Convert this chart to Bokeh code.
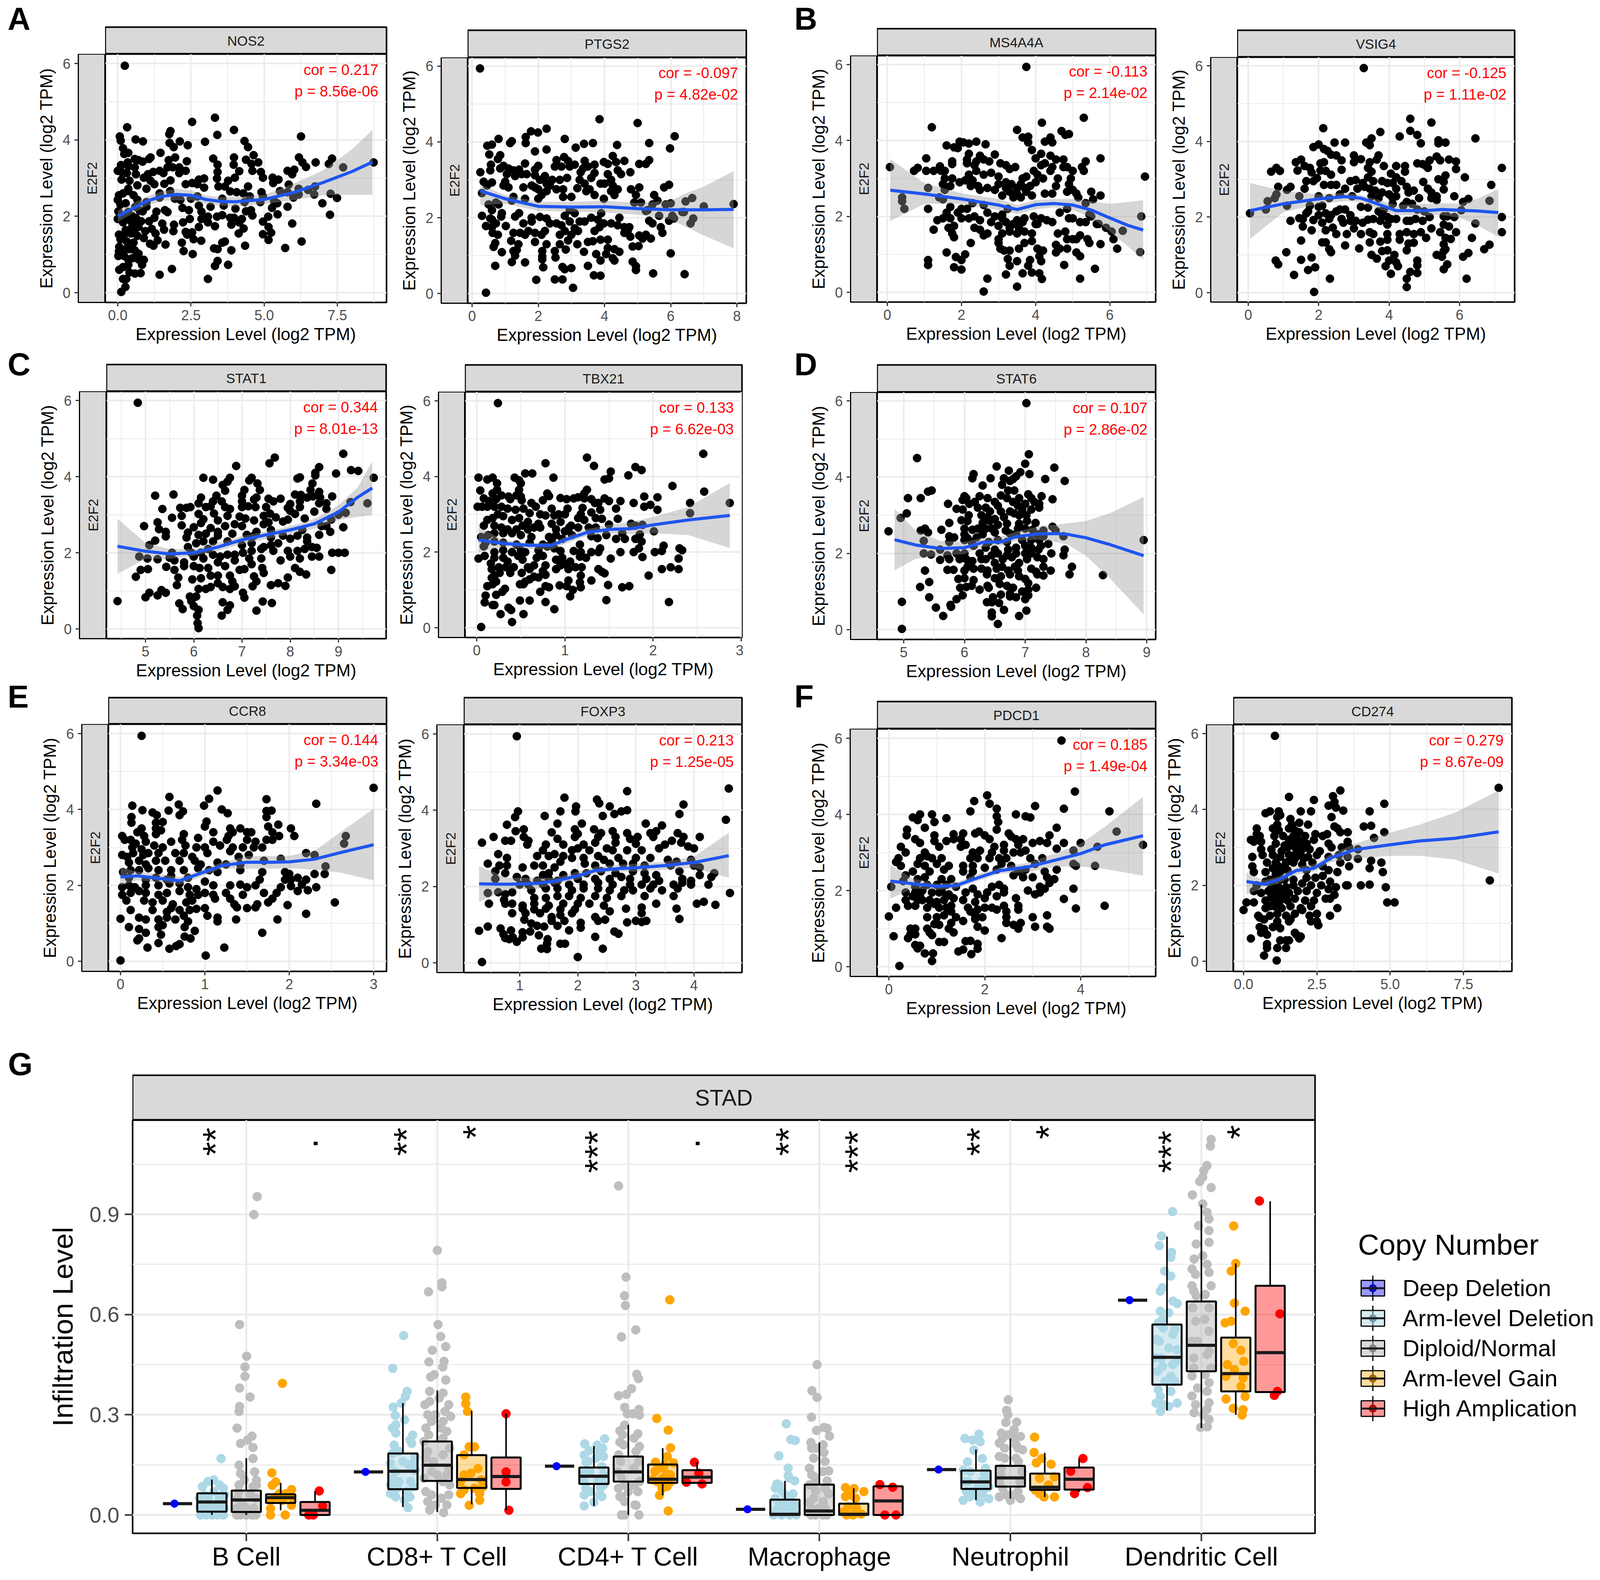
import math
from bokeh.plotting import figure
from bokeh.layouts import row, column
from bokeh.models import Spacer, Label, FixedTicker, Grid
from bokeh.core.properties import value
from bokeh.embed import file_html
from bokeh.resources import INLINE

FONT = "Liberation Sans"
GRID = "#EBEBEB"

# smooth curves: x, fit, upper, lower
SM = {
"NOS2":([0,.5,1,1.5,2,2.5,3,3.5,4,5,6,7,8,8.7],[2,2.2,2.4,2.52,2.57,2.55,2.44,2.39,2.38,2.44,2.62,2.88,3.17,3.42],[2.15,2.33,2.52,2.65,2.72,2.68,2.55,2.5,2.5,2.56,2.85,3.2,3.75,4.26],[1.85,2.07,2.28,2.4,2.42,2.42,2.32,2.28,2.26,2.32,2.42,2.55,2.56,2.56]),
"PTGS2":([.25,1,2,3,4,5,6,6.5,7,7.9],[2.71,2.5,2.3,2.28,2.29,2.24,2.21,2.21,2.21,2.22],[2.87,2.6,2.42,2.42,2.45,2.39,2.45,2.66,2.82,3.23],[2.33,2.37,2.18,2.16,2.14,2.08,1.95,1.74,1.53,1.19]),
"MS4A4A":([.08,1,2,3,3.5,4,4.5,5,5.5,6,6.5,6.9],[2.69,2.59,2.46,2.3,2.18,2.31,2.34,2.3,2.17,1.96,1.76,1.64],[3.51,2.88,2.61,2.46,2.3,2.43,2.46,2.46,2.4,2.33,2.38,2.43],[1.88,2.33,2.33,2.17,2.06,2.19,2.24,2.17,1.97,1.6,1.2,.86]),
"VSIG4":([.05,1,2,2.75,3.2,3.6,4.2,5,5.5,6,6.5,7.1],[2.17,2.35,2.48,2.54,2.5,2.37,2.17,2.17,2.2,2.18,2.16,2.12],[2.9,2.69,2.6,2.64,2.58,2.48,2.32,2.35,2.37,2.35,2.48,2.74],[1.42,2.13,2.35,2.42,2.4,2.25,2.05,2.05,2.05,1.98,1.79,1.48]),
"STAT1":([4.42,5,5.5,6,6.5,7,7.5,8,8.5,9,9.4,9.7],[2.17,2.04,1.97,2.0,2.15,2.34,2.47,2.6,2.76,3.07,3.46,3.7],[2.89,2.26,2.1,2.1,2.26,2.44,2.56,2.7,2.89,3.25,3.72,4.4],[1.45,1.84,1.84,1.92,2.05,2.23,2.36,2.49,2.63,2.86,2.94,2.99]),
"TBX21":([.02,.3,.6,.85,1,1.25,1.5,1.75,2,2.4,2.87],[2.32,2.23,2.18,2.18,2.32,2.52,2.6,2.62,2.72,2.85,2.97],[2.66,2.32,2.24,2.24,2.4,2.61,2.72,2.79,2.93,3.19,3.83],[2.0,2.14,2.08,2.06,2.22,2.43,2.49,2.48,2.5,2.45,2.11]),
"STAT6":([4.85,5.2,5.6,6,6.3,6.6,6.85,7.2,7.5,7.7,8,8.4,8.95],[2.36,2.22,2.13,2.15,2.29,2.3,2.44,2.51,2.52,2.5,2.41,2.23,1.94],[3.17,2.59,2.33,2.3,2.41,2.44,2.57,2.7,2.75,2.79,2.85,3.06,3.48],[1.56,1.86,1.94,1.98,2.17,2.2,2.33,2.36,2.3,2.23,1.94,1.34,.4]),
"CCR8":([0,.2,.4,.7,.9,1.2,1.5,1.8,2,2.3,2.6,3],[2.22,2.25,2.2,2.12,2.28,2.52,2.61,2.61,2.62,2.69,2.86,3.07],[2.47,2.36,2.31,2.22,2.36,2.6,2.77,2.77,2.78,2.91,3.39,4.02],[2.0,2.13,2.1,2.02,2.18,2.44,2.44,2.44,2.45,2.41,2.34,2.13]),
"FOXP3":([.3,.8,1.3,1.6,2,2.3,2.7,3,3.5,4,4.6],[2.07,2.06,2.08,2.14,2.28,2.42,2.47,2.49,2.55,2.63,2.81],[2.53,2.23,2.23,2.23,2.39,2.52,2.57,2.6,2.65,2.78,3.41],[1.6,1.92,1.94,2.05,2.18,2.34,2.39,2.39,2.44,2.49,2.23]),
"PDCD1":([.03,.5,1,1.4,1.8,2.3,2.9,3.5,4,4.5,5.3],[2.25,2.18,2.11,2.13,2.31,2.52,2.62,2.81,2.97,3.2,3.44],[2.68,2.31,2.18,2.21,2.41,2.6,2.73,2.99,3.23,3.67,4.46],[1.79,2.05,2.02,2.05,2.23,2.44,2.49,2.63,2.63,2.57,2.39]),
"CD274":([.1,.7,1.2,1.8,2.4,3,3.8,5,6,7.2,8.7],[2.1,2.03,2.15,2.39,2.45,2.73,2.94,3.07,3.17,3.24,3.41],[2.34,2.13,2.23,2.49,2.55,2.83,3.1,3.39,3.6,3.91,4.5],[1.76,1.94,2.05,2.28,2.36,2.62,2.7,2.78,2.78,2.68,2.31]),
}

# scatter points
nos2=[(.24,5.94),(.32,4.33),(.07,4.09),(.1,3.98),(.61,4.01),(.86,3.96),(2.54,4.47),(3.32,4.58),(1.8,4.23),(1.76,4.15),(1.77,3.92),(2.12,3.96),(1.91,3.81),(2.39,3.86),(2.98,3.95),(3.4,4.13),(3.97,4.26),(4.33,3.97),(4.45,3.81),(6.26,4.09),(.12,.02),(.26,.15),(.18,.36),(.29,.36),(3.08,.36),(1.43,.47),(1.85,.62),(.4,.53),(.59,.5),(.78,.51),(3.77,.73),(3.32,.7),(3.41,.83),(.05,.6),(.18,.67),(.36,.73),(.83,.73),(.89,.86),(.71,.87),(2.56,1.01),(2.25,1.09),(3.88,1.11),(3.29,1.16),(3.41,1.14),(5.72,1.17),(4.35,1.23),(1.63,1.26),(1.1,1.28),(1.22,1.23),(1.36,1.37),(2.19,1.31),(2.85,1.36),(2.59,1.4),(3.57,1.31),(3.66,1.34),(6.28,1.34),(5.15,1.38),(4.96,1.53),(5.24,1.57),(4.13,1.55),(5.15,1.72),(5.96,1.81),(4.96,1.86),(5.14,1.99),(7.25,2.04),(5.46,2.05),(5.8,2.25),(5.27,2.22),(6.99,2.34),(7.49,2.48),(7.27,2.59),(6.71,2.57),(7.7,3.28),(8.74,3.41),(7.32,3.51),(7.21,3.37),(6.76,3.41),(6.19,3.54),(6.31,3.41),(6.43,3.29),(5.8,3.19),(6.03,3.22),(5.96,3.1),(5.29,3.01),(5.49,2.96),(5.31,2.87),(5.84,2.83),(6.18,2.72),(6.74,2.78),(6.5,2.69),(6.18,2.57),(6,2.49),(5.8,2.63),(5.54,2.66),(5.34,2.4),(5.45,2.34),(4.91,2.63),(4.96,2.52),(4.87,2.37),(4.51,2.52),(4.33,2.37),(3.57,2.46),(3.62,2.28),(4.45,2.78),(4.6,3.19),(4.64,3.6),(4.38,3.48),(4.57,3.37),(4.8,3.41),(4.89,3.16),(4.96,3.01),(3.97,3.54),(3.96,3.35),(4.15,3.18),(4,3.01),(3.77,2.93),(3.26,3.51),(3.41,3.35),(3.41,3.16),(3.39,2.99),(3.44,2.78),(3.66,2.78),(3.84,2.65),(4.06,2.63),(4.29,2.6),(3.17,2.25),(2.77,2.28),(2.86,2.12),(4.02,2.2),(4.38,2.13),(4.55,2.16),(4.6,2.02),(3.39,1.99),(3.57,2.03),(3.84,1.96),(3.97,1.96),(4.24,1.93),(4.15,1.84),(3.88,1.78),(3.32,1.74),(4.3,1.68),(3.08,1.99),(2.86,1.93),(2.77,1.72),(3.08,1.84),(2.46,1.93),(2.23,1.84),(1.92,1.78),(1.9,1.61),(2.32,1.59),(2.54,1.58),(2.37,1.52),(1.58,1.65),(1.52,1.81),(1.7,2.11),(1.61,2.16),(2.21,2.22),(2.43,2.16),(1.32,2.12),(2.14,2.43),(1.95,2.46),(2.5,2.46),(2.72,2.52),(0,2.43),(.04,2.55),(.18,2.6),(.36,2.66),(.09,2.31),(.27,2.34),(.54,2.55),(.67,2.43),(.02,2.13),(.18,2.02),(.36,2.11),(0,1.93),(.18,1.84),(.45,1.87),(.62,1.96),(.85,2.13),(.98,2.25),(.8,1.87),(1.07,1.87),(1.25,1.96),(.71,1.72),(.49,1.72),(.27,1.64),(.04,1.52),(.22,1.52),(.45,1.55),(.67,1.49),(.94,1.61),(1.16,1.67),(1.29,1.55),(.89,1.43),(.54,1.31),(.31,1.34),(.09,1.4),(.05,1.2),(.04,1.08),(.02,.96),(.27,1.14),(.4,1.14),(.58,1.11),(.71,1.02),(.22,.96),(.36,.87),(.49,.9),(.18,3.78),(.22,3.63),(.36,3.66),(.58,3.5),(.71,3.47),(.85,3.43),(1.07,3.5),(1.12,3.54),(.34,3.41),(.36,3.31),(.11,3.34),(0,3.19),(.13,3.16),(.31,3.13),(.58,3.28),(.62,3.1),(1.03,3.1),(1.21,3.16),(1.43,3.19),(1.56,3.13),(1.46,3.66),(1.74,3.47),(1.96,3.54),(1.7,3.28),(1.88,3.28),(2.1,3.28),(2.36,3.44),(2.32,3.19),(2.1,3.13),(2.77,2.96),(2.95,2.99),(2.72,2.84),(2.95,2.75),(2.54,2.87),(2.32,2.84),(1.8,2.94),(1.59,2.85),(1.25,2.84),(1.12,2.93),(.89,3.01),(.4,2.93),(.13,2.96),(.67,2.81),(.98,2.72),(.36,2.72),(1.43,2.6),(1.79,2.66),(1.43,2.49),(.98,2.37),(.6,2.25),(.75,2.15),(.5,2.0),(.3,1.95),(.6,1.85),(.55,1.6)]
ptgs2=[(.24,5.94),(.42,.02),(3.05,.15),(1.94,.36),(2.5,.37),(2.73,.37),(3.68,.48),(3.88,.47),(5.47,.53),(6.42,.51),(2.73,.7),(2.8,.64),(3.0,.67),(2.15,.69),(.7,.73),(3.5,.73),(1.2,.83),(1.6,.82),(2.12,.9),(2.12,.98),(2.52,.95),(3.88,.87),(4.25,.93),(4.3,.87),(4.85,.84),(4.95,.72),(4.95,.62),(.9,1.09),(1.3,1.0),(1.25,1.12),(1.35,1.15),(2.12,1.12),(2.5,1.12),(2.83,1.16),(3.38,1.1),(3.75,1.04),(4.05,1.04),(4.1,1.2),(4.3,1.17),(4.45,1.1),(6,1.06),(.65,1.23),(.7,1.33),(1.18,1.39),(1.4,1.3),(1.9,1.36),(2.25,1.3),(2.65,1.3),(3.18,1.3),(3.5,1.36),(3.65,1.38),(3.88,1.42),(4.1,1.42),(4.85,1.24),(5.03,1.25),(5.15,1.45),(5.4,1.45),(5.05,1.53),(5.25,1.55),(4.78,1.5),(4.6,1.6),(5.75,1.6),(5.7,1.75),(5.45,1.85),(5.35,1.92),(5.95,1.92),(6.1,1.98),(6.6,1.85),(6.68,1.98),(6.35,2.15),(6.05,2.05),(5.65,2.05),(5.25,2.18),(.3,2.05),(.55,1.98),(.6,1.95),(.42,1.78),(.6,1.75),(.72,1.85),(.62,1.6),(.78,1.55),(.88,2.03),(.9,2.12),(1.02,1.78),(1.25,1.6),(1.45,1.6),(1.6,1.55),(1.3,2.03),(1.42,2.12),(1.55,1.85),(1.8,1.9),(1.8,2.0),(1.7,1.65),(1.9,1.6),(2.1,1.55),(2.2,1.65),(2.05,2.02),(2.25,1.98),(2.35,1.85),(2.55,1.85),(2.7,1.8),(2.65,1.55),(2.8,1.65),(3.0,1.55),(2.9,1.4),(2.95,1.9),(2.8,2.05),(2.95,2.2),(3.1,2.12),(3.25,1.9),(3.1,1.72),(3.2,1.65),(3.4,1.9),(3.6,2.0),(3.7,1.65),(3.85,1.75),(3.8,1.95),(3.98,1.85),(3.9,2.12),(4.2,1.85),(4.4,1.8),(4.45,2.0),(4.6,1.75),(4.75,1.75),(4.7,1.65),(.6,2.2),(.5,2.35),(.72,2.4),(.8,2.35),(1.2,2.45),(1.25,2.55),(1.6,2.5),(.25,3.2),(.35,2.95),(.45,2.85),(.6,2.93),(.3,2.65),(.55,3.25),(.57,3.4),(.52,3.67),(.78,3.55),(.85,3.65),(.46,3.9),(.6,3.93),(.8,4.08),(1.15,3.97),(1.2,4.02),(1.62,4.13),(1.62,3.97),(1.78,4.28),(1.99,4.25),(2.25,4.35),(2.25,3.8),(1.9,3.75),(2.8,4.08),(3.13,3.85),(3.38,3.95),(3.65,3.97),(3.85,4.6),(5,4.5),(4.38,3.92),(5.35,3.97),(6.12,4.15),(5.98,3.83),(4.25,3.63),(4.35,3.47),(4.6,3.5),(3.98,3.47),(4.1,3.42),(3.7,3.4),(3.4,3.5),(3.5,3.35),(3.35,3.3),(3.1,3.4),(2.95,3.35),(2.9,3.5),(2.78,3.6),(2.55,3.52),(2.5,3.35),(2.7,3.35),(1.6,3.43),(1.9,3.27),(2,3.37),(.85,3.3),(.95,3.37),(1.1,3.3),(1.25,3.25),(1.42,3.27),(1.3,3.1),(1.5,3.15),(1.65,3.15),(1.9,3.12),(1.05,3.15),(1.0,2.95),(.95,2.85),(1.1,2.8),(1.55,2.8),(1.8,2.85),(1.9,2.8),(2.0,2.75),(2.05,3.0),(2.2,3.1),(2.25,2.9),(2.35,2.85),(2.42,3.0),(2.25,2.7),(2.1,2.6),(2,2.5),(2.65,3.0),(2.55,2.75),(2.75,2.55),(2.75,2.75),(2.87,3.05),(3.0,2.55),(3.18,2.78),(3.25,3.0),(3.28,3.2),(3.4,2.9),(3.45,2.7),(3.55,2.75),(3.6,3.05),(3.7,2.6),(3.7,3.18),(3.88,2.9),(4.0,2.9),(3.98,2.5),(4.1,3.15),(4.2,3.0),(4.2,2.7),(4.3,2.6),(4.4,2.75),(4.25,2.85),(4.4,3.25),(4.5,3.15),(4.78,3.2),(5.05,3.42),(5.25,3.42),(5.35,3.52),(4.8,2.75),(5.05,2.8),(4.95,2.6),(4.9,2.4),(5.1,2.4),(5.3,2.2),(5.5,2.6),(5.6,2.45),(5.45,2.35),(5.8,2.8),(5.95,2.87),(5.85,2.35),(6,2.38),(6.45,2.43),(6.65,2.52),(7,2.3),(7.9,2.36),(6.4,2.15)]
ms4a4a=[(3.75,5.94),(1.2,4.35),(4.17,4.47),(5.3,4.6),(3.5,4.28),(4.7,4.25),(4.8,4.15),(4.9,4.17),(3.65,4.08),(3.8,4.1),(4.4,4.08),(3.8,3.95),(4.25,3.97),(4.45,3.95),(1.6,3.87),(1.8,3.82),(1.9,3.8),(1.95,3.97),(2.05,3.95),(2.2,3.92),(2.4,3.97),(2.65,3.9),(3.9,3.75),(4.15,3.65),(2.2,3.65),(2.5,3.6),(2.9,3.63),(4.4,3.6),(4.55,3.5),(4.75,3.5),(5.35,3.45),(5.75,3.53),(4,3.53),(1.05,3.53),(.07,3.3),(.72,3.2),(.82,3.28),(1.05,3.2),(1.25,3.2),(1.42,3.32),(1.45,3.2),(1.55,3.2),(1.75,3.45),(1.75,3.38),(2.15,3.5),(2.15,3.4),(2.35,3.35),(2.4,3.45),(2.6,3.5),(2.75,3.45),(3.05,3.4),(3.2,3.35),(3.3,3.25),(3.45,3.3),(4.15,3.35),(4.25,3.4),(4.45,3.3),(4.75,3.3),(4.85,3.3),(5.25,3.3),(5.3,3.2),(6.95,3.05),(5,3.2),(4.95,3.0),(4.9,2.85),(4.6,3.0),(4.4,3.2),(4.2,3),(4.05,3.1),(3.95,3.2),(3.75,3.05),(3.65,3),(3.0,3.05),(2.8,3.15),(2.6,3.1),(2.4,3.2),(2.2,3.1),(2.1,2.95),(1.95,2.9),(1.75,3.0),(1.55,3.0),(1.7,2.8),(1.5,2.85),(2.3,2.95),(2.45,2.8),(2.25,2.8),(2.5,2.7),(2.7,2.75),(2.9,2.7),(3,2.85),(3.2,2.9),(3.35,2.85),(3.3,2.65),(3.5,2.75),(3.6,2.85),(3.75,2.65),(3.9,2.55),(3.6,2.5),(3.4,2.5),(3.1,2.55),(4,2.9),(4.25,2.6),(4.45,2.6),(4.55,2.8),(4.85,2.65),(5,2.7),(5.15,2.5),(5.1,2.6),(5.35,2.35),(5.5,2.65),(5.55,2.45),(5.75,2.55),(1.1,2.75),(1.55,2.7),(1.4,2.5),(1.5,2.45),(.4,2.5),(.4,2.4),(.46,2.2),(1.1,2.2),(1.7,2.25),(1.6,2.1),(2,2.2),(2.15,2.2),(2.3,2.35),(2.6,2.3),(2.7,2.1),(1.9,2.1),(2,1.95),(2.2,1.95),(2.35,2.0),(2.5,1.9),(2.8,1.85),(2.9,2.0),(3.1,2.05),(3.2,1.85),(3,1.75),(3.3,1.7),(3.5,1.9),(3.65,1.85),(3.7,1.95),(3.95,2.0),(4,1.8),(4.15,1.95),(4.3,1.9),(4.45,1.85),(4.65,2.1),(4.9,1.95),(5,1.95),(5.2,1.85),(5.35,1.85),(4.85,2.2),(5.5,2),(5.65,1.8),(5.45,2.05),(1.35,1.9),(1.5,1.95),(1.7,1.95),(1.25,1.65),(1.65,1.7),(1.8,1.75),(1.75,1.55),(1.8,1.45),(2.35,1.7),(2.5,1.65),(2.6,1.5),(2.7,1.55),(2.25,1.3),(3,1.4),(3.1,1.55),(3.3,1.6),(3.5,1.55),(3.7,1.6),(3.9,1.55),(4.05,1.8),(4.6,1.55),(4.8,1.6),(4.85,1.4),(5,1.4),(5.1,1.4),(5.2,1.5),(5.4,1.4),(5.45,1.3),(5.75,1.27),(6.1,1.4),(6.05,1.6),(5.9,1.7),(5.7,1.8),(6.35,1.62),(6.85,2.0),(6.82,1.06),(6.2,1.15),(3,1.3),(3.05,1.15),(3.15,1.1),(3.3,1.1),(3.55,1.15),(3.7,1.3),(3.9,1.35),(4.05,1.15),(4.2,1.1),(4.55,1.25),(4.65,1.15),(4.85,1.15),(5.1,1.05),(5.2,.95),(4.55,1.05),(1.6,1.05),(1.85,.93),(2.1,1.0),(2,.85),(3.25,.88),(3.5,.82),(3.85,.85),(4.1,.95),(4.15,.82),(1.1,.85),(1.1,.72),(1.8,.66),(2.0,.6),(3.3,.7),(3.8,.7),(3.2,.47),(3.65,.5),(3.9,.52),(4.1,.5),(4.17,.35),(4.77,.72),(5.6,.62),(5.2,.36),(2.7,.36),(2.6,.02),(3.5,.15),(3.25,2.2),(3.1,1.95),(3.4,1.8),(3.55,1.7),(3.2,2.75),(3.7,2.75),(3.85,2.8),(3.5,2.6)]
vsig4=[(3.28,5.94),(4.6,4.6),(5.2,4.5),(2.13,4.35),(4.6,4.28),(3.75,4.25),(4.8,4.17),(4.3,4.13),(3.5,4.08),(6.45,4.08),(2.45,3.97),(2.75,3.97),(3.35,3.97),(3.45,3.9),(4.9,3.95),(5.4,4.03),(5.4,3.95),(5.6,3.97),(1.85,3.85),(2,3.92),(2.15,3.8),(2.25,3.75),(2.35,3.65),(2.5,3.63),(3,3.63),(3.7,3.63),(1.5,3.52),(2.65,3.5),(3.2,3.53),(3.65,3.52),(5.35,3.6),(5.45,3.5),(5.7,3.52),(5.9,3.47),(5.15,3.5),(1.35,3.45),(2.15,3.45),(2.05,3.42),(3,3.45),(3.45,3.45),(4.2,3.35),(4.45,3.35),(4.8,3.42),(4.95,3.4),(5.05,3.35),(7.2,3.3),(.65,3.2),(.8,3.3),(.9,3.22),(1.4,3.23),(1.6,3.35),(1.75,3.3),(2.05,3.23),(2.2,3.22),(2.65,3.25),(3.4,3.3),(3.5,3.2),(3.85,3.35),(4.05,3.15),(4.45,3.2),(5.1,3.3),(5.9,3.27),(1.8,3.18),(2.35,3.12),(3.4,3.05),(4.2,3.05),(5.6,3.1),(6.15,3.05),(1.65,2.95),(1.85,2.95),(1.95,3.03),(2.9,2.95),(3.05,2.98),(3.25,2.9),(3.55,2.95),(3.8,2.95),(3.95,2.9),(4.1,2.9),(4.35,2.95),(5.4,3.0),(5.55,2.93),(4.97,2.93),(6.9,2.85),(.85,2.8),(1.1,2.72),(1.2,2.8),(1.45,2.55),(1.6,2.75),(2.15,2.85),(2.35,2.85),(2.5,2.85),(2.75,2.75),(3.1,2.75),(3.3,2.8),(3.45,2.75),(3.6,2.7),(3.8,2.65),(4.2,2.75),(4.5,2.8),(4.55,2.65),(4.7,2.7),(5.1,2.75),(5.2,2.65),(5.55,2.73),(.8,2.6),(.75,2.5),(2,2.55),(2.3,2.5),(2.6,2.6),(2.95,2.55),(3.5,2.55),(3.7,2.5),(4,2.6),(4.1,2.5),(4.2,2.55),(4.5,2.4),(4.65,2.35),(4.85,2.5),(5.2,2.5),(5.35,2.55),(5.35,2.45),(5.85,2.55),(6.25,2.48),(6.1,2.4),(6.85,2.43),(.55,2.42),(.5,2.2),(.05,2.1),(1.1,2.3),(1.75,2.3),(1.7,2.15),(1.65,2.1),(2,2.27),(2.1,2.3),(2.75,2.2),(3.2,2.27),(3.4,2.25),(3.85,2.2),(4.1,2.35),(4.4,2.3),(4.8,2.2),(5,2.15),(5.15,2.0),(5.55,2.02),(5.65,2.02),(5.85,2),(7.2,2),(6.05,2.18),(2,2.05),(2.2,2.1),(2.35,2.05),(2.5,2.15),(2.6,2.2),(2.9,2.05),(3.7,2.15),(3.8,2.05),(3.95,2),(1.2,1.9),(1.45,1.97),(1.55,1.95),(1.85,1.92),(2.1,1.85),(2.3,1.95),(2.65,1.95),(2.7,1.85),(2.9,1.9),(3.05,1.9),(3.25,1.85),(3.4,1.93),(3.55,1.95),(3.75,1.9),(3.95,1.8),(4.2,1.95),(4.05,1.95),(4.5,1.9),(4.6,1.9),(4.75,1.95),(4.95,1.9),(5.55,1.8),(5.7,1.75),(6.45,1.83),(7.2,1.6),(1.55,1.75),(1.8,1.65),(2.2,1.65),(2.4,1.72),(2.5,1.55),(2.8,1.55),(3.0,1.7),(3.2,1.55),(3.45,1.6),(3.55,1.55),(3.95,1.55),(4.3,1.55),(4.5,1.6),(4.7,1.55),(4.9,1.6),(5.05,1.45),(5.2,1.7),(5.45,1.6),(5.6,1.45),(5.9,1.6),(5.75,1.42),(6.35,1.45),(1.5,1.38),(2.1,1.33),(2.2,1.33),(2.75,1.25),(3.15,1.17),(3.45,1.33),(3.75,1.35),(3.95,1.4),(4.3,1.4),(4.55,1.3),(4.7,1.32),(5.55,1.28),(5.6,1.15),(6.85,1.27),(6.7,1.15),(1.08,1.07),(2.3,1.15),(2.35,1.07),(3.5,1),(3.8,1.1),(3.95,1.12),(4.15,1.0),(4.5,1.12),(5.35,1),(5.5,.95),(6.1,.95),(6.25,1.05),(5.55,1.1),(.78,.85),(.85,.75),(1.5,.87),(1.8,.93),(3.65,.9),(4.0,.85),(4.2,.8),(4.8,.85),(4.8,.72),(3.9,.7),(4.25,.7),(5.65,.75),(1.9,.67),(1.7,.6),(5.55,.62),(1.3,.47),(4.05,.5),(4.6,.55),(4.8,.52),(4.5,.37),(2.32,.37),(6.2,.37),(4.5,.15),(1.87,.02)]
stat1=[(4.84,5.94),(9.1,4.6),(7.68,4.5),(7.57,4.35),(6.88,4.28),(8.6,4.25),(9.26,4.17),(9.41,4.15),(8.95,4.08),(8.52,4.1),(8.52,4.03),(9.73,3.97),(6.2,3.97),(6.4,3.92),(6.75,3.97),(6.7,3.87),(7.2,3.97),(7.15,3.9),(8.15,3.95),(8.2,3.98),(7.32,3.82),(8.46,3.82),(6.6,3.78),(6.65,3.63),(7.37,3.65),(8.42,3.65),(7.05,3.65),(5.58,3.53),(5.2,3.5),(6.47,3.5),(7,3.5),(7.3,3.45),(7.25,3.4),(8.1,3.53),(8.22,3.52),(8.6,3.6),(8.35,3.45),(8.47,3.48),(8.62,3.45),(8.87,3.48),(6.15,3.45),(6.4,3.35),(6.58,3.35),(7,3.35),(7.55,3.42),(7.65,3.35),(7.8,3.42),(8.2,3.35),(8.6,3.3),(8.75,3.3),(9.25,3.33),(9.6,3.3),(6.1,3.3),(6.25,3.2),(6.35,3.22),(6.65,3.2),(6.75,3.15),(7,3.2),(7.13,3.22),(7.28,3.2),(7.5,3.2),(7.95,3.18),(8,3.28),(8.2,3.2),(5.72,3.18),(5.85,3.18),(5.35,3.15),(5.93,3.2),(6.1,3.02),(6.42,3.03),(7.58,3.03),(8,3.1),(8.1,3.02),(8.5,3.08),(8.75,3.15),(9,3),(9.15,3.05),(5.55,2.92),(5.75,2.97),(6.2,2.88),(6.5,2.85),(6.7,2.97),(6.95,2.95),(7.07,2.9),(7.25,2.85),(7.45,2.97),(7.55,2.8),(7.7,2.93),(7.85,2.82),(7.95,2.87),(8.3,2.9),(8.85,2.87),(4.97,2.7),(5.25,2.8),(5.28,2.62),(5.42,2.55),(5.75,2.72),(6,2.67),(6.15,2.78),(6.35,2.65),(6.5,2.55),(6.65,2.7),(6.85,2.75),(7,2.7),(7.3,2.55),(7.45,2.75),(7.6,2.6),(8.25,2.6),(8.65,2.7),(8.75,2.7),(9.1,2.67),(5.42,2.43),(5.88,2.53),(5.85,2.4),(6.1,2.47),(6.25,2.5),(6.5,2.45),(6.8,2.5),(7.1,2.47),(7.25,2.45),(7.6,2.4),(7.85,2.45),(8,2.37),(8.15,2.45),(8.35,2.4),(8.6,2.47),(8.83,2.55),(5.2,2.32),(5.08,2.2),(5.88,2.15),(6.05,2.25),(6.2,2.3),(6.4,2.3),(6.7,2.3),(7,2.2),(7.2,2.25),(7.45,2.15),(7.6,2.2),(7.75,2.25),(8.35,2.3),(8.45,2.15),(8.55,2.13),(5.55,2),(5.95,2),(6.15,2),(6.3,2.1),(6.4,1.95),(6.7,1.95),(6.85,1.95),(7.02,2),(7.2,2.05),(7.4,2.1),(7.65,2.05),(7.95,2.05),(8.15,2.05),(8.3,2.1),(8.87,2),(9,2),(9.13,2),(4.87,1.9),(5.04,1.85),(5.25,1.83),(5.5,1.87),(5.6,1.8),(5.8,1.75),(6,1.9),(6.2,1.85),(6.55,1.9),(6.85,1.8),(7.15,1.85),(7.4,1.85),(7.8,1.8),(8,1.9),(8.2,1.85),(8.45,1.9),(8.6,1.9),(5.05,1.57),(5.43,1.63),(5.6,1.55),(5.8,1.65),(6,1.65),(6.12,1.6),(6.3,1.6),(6.5,1.75),(6.65,1.65),(6.95,1.55),(7.05,1.57),(7.2,1.7),(7.42,1.6),(7.45,1.47),(8.1,1.6),(8.2,1.5),(8.85,1.55),(4.9,1.55),(4.8,1.37),(5.68,1.35),(5.97,1.3),(6.15,1.33),(6.35,1.4),(6.5,1.4),(6.75,1.4),(7.25,1.38),(7.3,1.25),(7.95,1.35),(8.33,1.43),(5.65,1.15),(6.1,1.05),(6.25,1.05),(6.35,1.1),(6.5,1.2),(6.6,1.1),(6.75,1.05),(6.8,1.25),(6.85,1.12),(7.22,1.12),(7.6,1.15),(7.75,1.2),(7.9,1.13),(5.08,.95),(5,.83),(5.25,.88),(5.33,1.02),(5.42,.95),(5.92,.85),(6.05,.85),(7.02,.95),(7.05,.82),(5.95,.73),(5.7,.67),(5.77,.52),(6,.6),(6.1,.5),(6.6,.7),(6.75,.62),(6.7,.5),(7.43,.72),(7.62,.68),(7.3,.48),(4.42,.73),(6.07,.35),(6.58,.35),(6.08,.15),(6.1,.02)]
tbx21=[(.24,5.94),(2.57,4.6),(1.25,4.5),(.78,4.35),(1.33,4.28),(1.8,4.25),(1.87,4.17),(1.52,4.13),(.55,4.08),(.63,4.08),(1.72,4.03),(.02,3.97),(.12,3.92),(.18,3.97),(.43,3.97),(.48,3.9),(.5,3.82),(.87,3.97),(1.45,3.92),(1.5,3.95),(.23,3.82),(2.22,3.75),(.04,3.63),(.23,3.65),(.48,3.65),(1.25,3.65),(2.58,3.6),(.18,3.55),(.28,3.5),(.36,3.47),(.45,3.5),(.5,3.47),(.8,3.55),(.82,3.48),(1.15,3.45),(1.22,3.55),(1.9,3.47),(2.05,3.45),(.08,3.42),(.14,3.35),(.22,3.4),(.38,3.4),(.51,3.37),(.75,3.37),(.95,3.43),(1.02,3.4),(1.1,3.42),(1.22,3.42),(1.3,3.4),(1.45,3.42),(1.5,3.35),(1.63,3.35),(.01,3.2),(.06,3.2),(.12,3.2),(.2,3.2),(.28,3.2),(.35,3.15),(.44,3.12),(.62,3.3),(.67,3.2),(.85,3.15),(1.03,3.15),(1.2,3.17),(1.34,3.3),(1.38,3.3),(1.78,3.3),(1.9,3.2),(1.97,3.25),(2.42,3.3),(2.87,3.3),(.53,3.15),(.6,3.03),(.72,3),(.78,2.97),(.88,2.97),(.93,3),(1.0,3),(1.18,3),(1.3,3.05),(1.4,3.12),(1.58,3.15),(2.05,3.12),(2.42,3.03),(.12,2.85),(.18,2.9),(.24,3),(.3,2.95),(.4,2.85),(.48,2.9),(.58,2.8),(.7,2.75),(.85,2.75),(.95,2.8),(1.07,2.7),(1.05,2.65),(1.15,2.9),(1.22,2.85),(1.35,2.9),(1.42,2.88),(1.6,2.88),(.08,2.7),(.2,2.7),(.28,2.65),(.35,2.6),(.45,2.6),(.52,2.7),(.58,2.6),(.65,2.65),(.72,2.65),(.9,2.6),(1,2.55),(1.15,2.65),(1.27,2.65),(1.35,2.65),(1.5,2.73),(1.75,2.75),(1.8,2.7),(1.88,2.72),(.05,2.4),(.13,2.45),(.2,2.5),(.3,2.5),(.4,2.5),(.5,2.45),(.62,2.4),(.82,2.4),(.9,2.45),(.97,2.35),(1.08,2.45),(1.3,2.42),(1.37,2.37),(1.47,2.45),(1.65,2.5),(1.85,2.47),(2.01,2.55),(.1,2.25),(.2,2.28),(.3,2.25),(.45,2.2),(.6,2.25),(.75,2.2),(.85,2.3),(1.17,2.2),(1.58,2.35),(1.68,2.35),(1.8,2.35),(1.87,2.28),(.08,2.15),(.2,2.0),(.3,2.05),(.4,2.0),(.5,2.05),(.55,2),(.7,2.05),(.8,2.15),(.88,2.1),(.95,2.03),(1.1,2.03),(1.18,2),(1.3,2),(1.38,2),(1.4,2.1),(1.63,2),(1.78,2),(1.84,2.1),(2.02,2),(2.1,2.03),(2.12,2.17),(2.3,2.1),(2.33,2.05),(.02,1.83),(.09,1.9),(.2,1.85),(.3,1.85),(.35,1.75),(.47,1.9),(.52,1.8),(.68,1.85),(.75,1.9),(.9,1.8),(.97,1.85),(1.06,1.75),(1.17,1.88),(1.24,1.85),(1.52,1.83),(1.88,1.87),(2.29,1.83),(.16,1.7),(.25,1.6),(.33,1.6),(.42,1.6),(.58,1.6),(.65,1.65),(.78,1.65),(.95,1.65),(1,1.68),(1.04,1.55),(1.12,1.6),(1.19,1.6),(.17,1.55),(.26,1.45),(.38,1.45),(.51,1.45),(.6,1.55),(.75,1.5),(.78,1.4),(.9,1.55),(1.38,1.55),(1.42,1.48),(1.45,1.44),(2.1,1.55),(2.2,1.6),(2.29,1.55),(1.95,1.38),(.17,1.32),(.2,1.37),(.6,1.28),(.65,1.35),(.7,1.33),(.55,1.22),(1.18,1.38),(1.3,1.25),(1.04,1.25),(.12,1.1),(.18,1.15),(.22,1.22),(.49,1.15),(.53,1.15),(.78,1.1),(.82,1.07),(.94,1.12),(1.02,1.1),(1.17,1.2),(1.18,1.07),(1.49,1.13),(1.65,1.07),(1.73,1.1),(1.09,1),(.1,.85),(.22,.87),(.29,.95),(.32,1.03),(.72,.95),(1.06,.83),(.09,.67),(.18,.6),(.2,.6),(.49,.72),(.6,.72),(.78,.68),(1.47,.73),(2.18,.68),(.36,.53),(.39,.47),(.88,.49),(.27,.36),(.53,.36),(.4,.15),(.05,.02)]
stat6=[(7.02,5.94),(5.22,4.5),(7.06,4.6),(7,4.35),(6.53,4.28),(7.48,4.25),(6.73,4.17),(6.92,4.13),(7.07,4.08),(6.15,4.08),(6.13,3.97),(6.43,3.97),(6.65,3.97),(6.75,3.9),(6.8,3.95),(6.85,4.02),(7.33,3.95),(7.65,3.9),(6.3,3.78),(6.62,3.8),(6.72,3.65),(6.82,3.65),(5.4,3.62),(5.46,3.65),(5.07,3.45),(5.28,3.45),(6,3.5),(6.03,3.45),(6.25,3.5),(6.38,3.45),(6.6,3.52),(6.7,3.45),(6.9,3.45),(7.05,3.55),(7.1,3.45),(7.27,3.5),(7.45,3.42),(5.97,3.4),(6.08,3.3),(6.17,3.35),(6.5,3.35),(6.55,3.25),(6.8,3.35),(6.88,3.25),(7.0,3.3),(7.15,3.35),(7.23,3.3),(5.73,3.3),(5.87,3.17),(5.97,3.15),(6.22,3.2),(6.35,3.2),(6.42,3.1),(6.6,3.1),(6.75,3.1),(6.82,3.05),(6.95,3.15),(7.1,3.15),(7.23,3.2),(5.05,3.05),(4.95,2.93),(6.07,3),(6.28,3),(6.38,2.95),(6.5,2.9),(6.65,2.95),(6.9,3),(7.02,3),(5.75,2.8),(5.95,2.87),(6.05,2.85),(6.3,2.8),(6.42,2.85),(6.55,2.75),(6.7,2.78),(6.9,2.78),(7.03,2.85),(7.17,2.8),(5.35,2.65),(5.28,2.6),(5.62,2.62),(6,2.65),(6.13,2.62),(6.22,2.65),(6.35,2.65),(6.45,2.65),(6.68,2.6),(6.88,2.65),(7,2.65),(7.12,2.62),(7.45,2.7),(7.5,2.6),(4.75,2.58),(5.4,2.55),(5.75,2.45),(5.83,2.42),(6,2.5),(6.05,2.4),(6.2,2.42),(6.3,2.5),(6.5,2.55),(6.75,2.52),(6.85,2.5),(7.2,2.5),(7.3,2.6),(7.3,2.45),(7.63,2.45),(5.33,2.33),(5.75,2.3),(6,2.35),(6.12,2.3),(6.4,2.3),(6.55,2.35),(6.7,2.3),(6.95,2.35),(7.1,2.35),(7.23,2.35),(7.38,2.25),(8.95,2.35),(5.6,2.1),(6.15,2.2),(6.35,2.15),(6.5,2.1),(6.72,2.1),(6.85,2.15),(7,2.2),(7.1,2.15),(7.22,2.1),(7.26,2.2),(7.65,2.1),(5.33,2),(5.45,1.97),(5.72,1.95),(5.87,2),(6,2),(6.25,2),(6.45,1.95),(6.55,2),(6.7,1.95),(6.85,2),(7,2),(7.1,2),(7.43,2),(7.63,1.95),(5.6,1.83),(5.75,1.85),(5.92,1.85),(6.03,1.85),(6.13,1.8),(6.28,1.85),(6.35,1.85),(6.5,1.75),(6.63,1.85),(6.78,1.9),(6.9,1.75),(7.03,1.85),(7.2,1.9),(7.3,1.85),(5.35,1.55),(5.72,1.57),(5.82,1.57),(6,1.55),(6.05,1.65),(6.15,1.6),(6.28,1.6),(6.38,1.55),(6.53,1.6),(6.62,1.65),(6.72,1.55),(6.83,1.65),(6.88,1.55),(7.1,1.6),(7.18,1.52),(7.3,1.65),(7.42,1.55),(7.77,1.65),(7.73,1.45),(6.37,1.45),(6.5,1.35),(6.6,1.4),(6.9,1.4),(6,1.35),(5.9,1.33),(6.15,1.3),(6.75,1.45),(7,1.33),(7.2,1.45),(7.3,1.42),(8.28,1.43),(5.42,1.25),(5.27,1.12),(5.93,1.1),(6.03,1.12),(6.12,1.15),(6.25,1.05),(6.4,1.1),(6.38,1.15),(6.58,1.2),(6.7,1.15),(6.8,1.1),(6.95,1),(7.05,1.05),(7.05,1.22),(7.18,1.1),(6.75,.95),(6.6,.92),(6.85,.85),(6.75,.87),(7.05,.9),(7.0,.8),(5.42,.85),(5.87,.8),(5.97,.9),(6.37,.72),(6.45,.72),(6.47,.85),(6.57,.7),(4.97,.73),(5.77,.65),(5.78,.6),(5.53,.58),(6.65,.52),(7.02,.5),(6.45,.45),(6.45,.35),(5.65,.36),(6.9,.36),(6.55,.15),(4.97,.02)]
ccr8=[(.25,5.94),(3,4.57),(1.15,4.5),(.58,4.33),(1.73,4.27),(1.05,4.28),(2.32,4.15),(.14,4.1),(.69,4.13),(.99,4.1),(1.2,4),(1.73,3.96),(1.79,3.97),(.26,3.98),(.57,3.97),(.74,3.95),(.38,3.92),(.43,3.85),(.7,3.85),(1.27,3.9),(.13,3.8),(1.73,3.8),(.13,3.65),(.42,3.65),(.5,3.67),(1.02,3.68),(1.75,3.55),(1.87,3.6),(2.02,3.5),(.25,3.5),(.42,3.5),(.48,3.45),(1,3.55),(1.3,3.5),(1.42,3.5),(1.5,3.4),(1.55,3.4),(.2,3.4),(.28,3.3),(.42,3.35),(.75,3.35),(1.1,3.4),(1.28,3.3),(1.33,3.4),(1.8,3.4),(1.88,3.3),(2.06,3.3),(2.67,3.3),(.02,3.3),(.05,3.2),(.12,3.2),(.18,3.1),(.3,3.15),(.6,3.15),(.73,3.2),(.92,3.25),(1.1,3.15),(1.26,3.2),(1.5,3.2),(1.6,3.15),(1.73,3.2),(1.8,3.2),(2.65,3.1),(.14,3),(.25,2.95),(.4,3.05),(.5,3),(.77,3.05),(.9,3),(1,3),(1.18,3.05),(1.33,3),(1.45,3),(1.58,3),(1.68,3),(.02,2.8),(.08,2.75),(.15,2.85),(.27,2.8),(.33,2.85),(.45,2.85),(.65,2.85),(.75,2.85),(.85,2.75),(1.03,2.85),(1.3,2.9),(1.4,2.75),(1.52,2.8),(2.2,2.85),(2.3,2.8),(.1,2.6),(.22,2.65),(.3,2.55),(.42,2.65),(.53,2.65),(.7,2.65),(.88,2.65),(.95,2.55),(1.15,2.6),(1.25,2.55),(1.42,2.55),(1.7,2.65),(1.9,2.7),(2.43,2.5),(.03,2.35),(.12,2.4),(.22,2.4),(.33,2.45),(.45,2.4),(.6,2.4),(.75,2.4),(.92,2.45),(1.05,2.4),(1.15,2.35),(1.42,2.4),(1.68,2.35),(1.95,2.35),(2,2.3),(2.3,2.3),(2.42,2.3),(2.1,2.2),(.1,2.2),(.3,2.15),(.42,2.2),(.55,2.15),(.6,2.25),(.8,2.2),(1,2.1),(1.65,2.15),(1.95,2.15),(2.02,2.15),(2.2,2.15),(.02,1.95),(.1,2),(.17,1.95),(.3,2),(.45,2),(.58,2.05),(.7,2.05),(.8,1.95),(.9,1.9),(1.1,2),(1.3,2),(1.42,2.02),(1.5,1.95),(1.6,2),(1.9,1.95),(2.02,1.98),(2.15,2.02),(2.32,1.95),(.02,1.75),(.12,1.8),(.22,1.85),(.3,1.8),(.45,1.75),(.55,1.8),(.7,1.85),(.82,1.75),(.92,1.75),(1,1.8),(1.1,1.75),(1.25,1.8),(1.45,1.75),(1.7,1.8),(1.85,1.8),(2.1,1.85),(2.22,1.87),(.07,1.6),(.28,1.6),(.38,1.55),(.5,1.6),(.62,1.5),(.78,1.55),(.85,1.6),(1.12,1.65),(1.3,1.65),(1.35,1.5),(1.8,1.65),(1.75,1.55),(1.62,1.5),(2.54,1.55),(1.98,1.48),(.12,1.35),(.38,1.35),(.55,1.3),(.6,1.4),(.7,1.35),(.82,1.35),(.9,1.38),(1.0,1.4),(1.38,1.42),(1.5,1.4),(1.6,1.42),(2.2,1.25),(.22,1.15),(.3,1.1),(.45,1.1),(.55,1.15),(.65,1.1),(.75,1.2),(.8,1.05),(1.03,1.2),(1.15,1.15),(1.15,1.05),(1.37,1.1),(1.86,1.1),(0,1.12),(.1,.9),(.22,.85),(.45,.9),(.5,.95),(.76,.9),(.88,.8),(.3,.75),(.48,.7),(.22,.6),(.2,.55),(.76,.65),(.83,.6),(1.68,.75),(.45,.48),(.32,.36),(.58,.33),(.66,.4),(.7,.45),(1.23,.36),(1.01,.15),(0,.02)]
foxp3=[(.95,5.94),(4.6,4.57),(2.85,4.5),(1.77,4.33),(2.33,4.28),(2.37,4.18),(2.55,4.1),(3.82,4.15),(1.97,4.1),(.97,3.97),(1.7,3.97),(1.96,3.97),(2.85,4.0),(2.75,3.97),(3.75,3.9),(.92,3.82),(1.43,3.85),(2.43,3.85),(2.63,3.9),(4.55,3.75),(1.65,3.65),(2.07,3.65),(.78,3.62),(3.17,3.65),(3.45,3.6),(1.07,3.5),(.93,3.45),(1.55,3.42),(1.95,3.5),(2,3.38),(2.28,3.5),(2.4,3.4),(2.6,3.45),(2.85,3.4),(3.25,3.4),(3.35,3.45),(3.72,3.4),(1.07,3.3),(.55,3.3),(.75,3.2),(.85,3.2),(1.15,3.2),(1.65,3.25),(1.95,3.3),(2.35,3.3),(2.65,3.3),(2.9,3.25),(3.03,3.3),(3.3,3.3),(3.82,3.3),(4.1,3.3),(.35,3.15),(1.13,3.1),(1.45,3.1),(1.75,3.1),(2.1,3.1),(2.3,3.15),(2.65,3.15),(3,3.12),(3.5,3.1),(3.62,3.2),(3.78,3.15),(3.9,3.05),(1.4,2.95),(1.6,2.85),(1.9,2.95),(2,3),(2.2,2.95),(2.5,3),(2.6,2.95),(2.85,2.95),(3.1,2.95),(3.4,3),(4,3),(.63,2.85),(.78,2.75),(1.3,2.8),(1.5,2.8),(1.75,2.8),(1.9,2.75),(2.1,2.75),(2.35,2.8),(2.45,2.7),(2.7,2.75),(3,2.75),(3.25,2.75),(3.55,2.7),(3.7,2.65),(3.95,2.7),(.45,2.6),(.65,2.55),(.78,2.55),(1.05,2.5),(1.25,2.55),(1.4,2.55),(1.6,2.5),(1.7,2.65),(2.12,2.6),(2.3,2.55),(2.55,2.6),(2.78,2.6),(2.95,2.6),(3.15,2.55),(3.6,2.55),(4,2.55),(4.1,2.5),(.58,2.4),(.75,2.35),(1.4,2.3),(1.5,2.35),(1.75,2.3),(1.95,2.35),(2.15,2.35),(2.4,2.4),(2.65,2.35),(2.95,2.4),(3.15,2.35),(3.35,2.3),(3.75,2.4),(4.1,2.3),(4.35,2.35),(.58,2.2),(.95,2.25),(1.1,2.2),(1.3,2.15),(1.5,2.2),(1.65,2.15),(2,2.2),(2.3,2.2),(2.55,2.2),(2.75,2.25),(2.9,2.2),(3.18,2.2),(3.4,2.15),(3.8,2.2),(3.95,2.15),(4.3,2.25),(1,2.05),(1.15,2.05),(1.4,2.05),(1.6,2.1),(1.85,2.05),(2.1,2.05),(2.35,2.1),(2.6,2.05),(2.9,2.05),(3.1,2.05),(3.3,2.05),(3.65,2.05),(3.8,2.1),(3.95,2.05),(4.25,2.05),(.45,1.83),(.63,1.85),(.75,1.8),(.87,1.85),(1.2,1.9),(1.45,1.95),(1.65,1.95),(1.9,1.9),(2.1,1.95),(2.35,1.95),(2.55,1.9),(2.8,1.9),(2.95,1.9),(3.25,1.95),(3.45,1.9),(3.72,1.95),(4.62,1.83),(.73,1.65),(1.25,1.7),(1.45,1.7),(1.65,1.75),(1.85,1.75),(2.05,1.7),(2.3,1.75),(2.5,1.7),(2.75,1.75),(3.15,1.75),(3.65,1.75),(.75,1.55),(.87,1.55),(1.05,1.5),(1.25,1.55),(1.5,1.5),(1.75,1.55),(2,1.55),(2.2,1.55),(2.45,1.5),(3.35,1.55),(4.05,1.55),(4.17,1.6),(4.37,1.52),(.47,1.55),(1.05,1.42),(1.25,1.4),(1.45,1.42),(1.7,1.4),(1.95,1.4),(2.55,1.35),(2.83,1.42),(3.1,1.45),(3.7,1.42),(.87,1.3),(1.1,1.3),(1.35,1.3),(1.55,1.2),(1.7,1.25),(1.9,1.3),(2.3,1.2),(3.1,1.3),(2.35,1.1),(2.47,1.13),(1.08,1.13),(1.55,1.1),(1.77,1.1),(2.05,1.05),(2.85,1.06),(3.0,1.1),(3.1,1.07),(3.18,1.1),(3.75,1.15),(.45,.95),(.67,.9),(1.2,1.03),(1.3,.97),(1.42,.95),(1.65,.97),(1.85,.85),(2.05,.92),(.3,.84),(.85,.85),(.72,.75),(1.05,.8),(1.18,.82),(1.33,.72),(2.63,.82),(2.7,.76),(.75,.65),(.88,.67),(1.05,.67),(.82,.62),(.95,.55),(1.48,.62),(2.3,.68),(1.47,.5),(1.7,.5),(1.78,.5),(1.37,.37),(1.47,.36),(2.43,.37),(2,.15),(.35,.02)]
pdcd1=[(3.6,5.94),(3.88,4.6),(2.05,4.5),(1.78,4.35),(2.1,4.28),(3.05,4.22),(3.65,4.15),(2.25,4.15),(4.6,4.08),(1.7,4.08),(2.25,3.95),(2.65,4),(2.85,3.95),(2.95,3.92),(.5,3.92),(.65,4),(.9,4),(.6,3.85),(1.2,3.9),(.95,3.8),(2.28,3.8),(3.5,3.65),(.75,3.65),(.38,3.6),(2.25,3.6),(1.88,3.55),(1.8,3.5),(4.75,3.55),(.37,3.45),(.95,3.45),(1.35,3.48),(1.55,3.5),(2,3.45),(2.5,3.5),(2.55,3.42),(3.35,3.45),(.55,3.35),(.95,3.3),(1.2,3.3),(1.35,3.35),(1.5,3.35),(2.1,3.35),(2.65,3.35),(2.8,3.35),(3.0,3.25),(3.15,3.3),(3.3,3.25),(3.65,3.25),(4,3.25),(.25,3.15),(.65,3.25),(1.05,3.15),(1.5,3.15),(1.6,3.2),(2.2,3.15),(2.4,3.2),(2.7,3.2),(3.5,3.1),(4.35,3.15),(5.3,3.2),(.35,3),(.75,3),(.8,2.9),(1.75,3),(1.9,3.05),(2.15,3),(2.4,3.05),(2.6,3.0),(2.75,3),(2.85,3.05),(3.85,3.05),(.15,2.75),(.2,2.85),(.65,2.85),(.9,2.85),(1.1,2.85),(1.7,2.85),(1.85,2.85),(2.1,2.85),(2.3,2.85),(2.45,2.85),(2.95,2.85),(3.2,2.85),(.25,2.65),(.6,2.7),(.75,2.65),(1,2.7),(1.25,2.65),(1.55,2.65),(1.75,2.65),(2,2.6),(2.35,2.7),(2.55,2.65),(3.05,2.7),(3.85,2.7),(3.9,2.65),(4.3,2.65),(.5,2.5),(.85,2.5),(1.15,2.55),(1.55,2.5),(1.75,2.5),(2.25,2.55),(2.7,2.5),(2.85,2.55),(3.25,2.5),(3.5,2.55),(.3,2.25),(.35,2.4),(.6,2.3),(.75,2.35),(1.1,2.3),(1.3,2.3),(1.7,2.35),(2.6,2.4),(2.8,2.35),(3,2.35),(3.3,2.35),(3.45,2.3),(3.35,2.2),(.05,2.1),(.55,2.1),(.8,2.15),(1,2.15),(1.2,2.15),(1.4,2.1),(1.75,2.05),(2.15,2.1),(2.3,2.15),(2.4,2.05),(3.15,2.1),(3.25,2.05),(3.85,2.05),(.35,1.95),(.55,1.95),(.9,1.95),(1.05,1.95),(1.25,1.9),(1.6,1.95),(1.85,1.9),(2.05,1.95),(2.4,1.95),(2.9,2),(3.05,1.9),(3.15,1.95),(.35,1.75),(.5,1.85),(.6,1.75),(.85,1.75),(1.15,1.75),(1.35,1.8),(1.55,1.75),(1.8,1.7),(2,1.8),(2.25,1.85),(2.65,1.8),(3.65,1.78),(.4,1.6),(.55,1.6),(.8,1.55),(1.05,1.55),(1.2,1.55),(1.65,1.55),(2,1.55),(2.15,1.55),(2.4,1.6),(2.7,1.6),(.15,1.55),(1.3,1.45),(1.7,1.45),(1.85,1.5),(2.25,1.5),(2.45,1.45),(2.7,1.5),(3.9,1.53),(4.5,1.6),(0,1.32),(.8,1.3),(1,1.3),(1.15,1.35),(1.4,1.3),(1.8,1.35),(1.95,1.3),(2.45,1.3),(3.0,1.3),(3.3,1.35),(.95,1.12),(1.05,1.1),(1.3,1.15),(1.55,1.2),(1.8,1.25),(2.45,1.15),(2.6,1.1),(2.75,1.15),(1.25,1),(1.85,1.05),(2,.95),(2.7,1),(3.05,1.05),(3.3,1.05),(3.35,1),(.45,1),(.55,1),(.8,1),(.85,.9),(.45,.85),(.55,.85),(.9,.83),(1.35,.9),(.1,.8),(.4,.75),(2.35,.75),(1.05,.65),(1.15,.65),(1.6,.67),(1.7,.68),(1.85,.6),(.55,.57),(.65,.55),(.6,.48),(1.45,.4),(1.55,.45),(1.85,.47),(.75,.35),(.92,.35),(1.72,.33),(.9,.15),(.22,.02),(1.1,2.0),(1.2,1.85),(1.0,1.7),(1.3,1.6),(.7,2),(.65,1.9),(.7,1.75),(.95,1.65)]
cd274=[(1.07,5.94),(8.7,4.57),(3.3,4.5),(1.55,4.33),(3.05,4.35),(2.4,4.25),(3.1,4.2),(4.8,4.15),(3.15,4.05),(2.9,4.1),(1.95,3.95),(2.3,3.95),(3.4,3.97),(4.3,3.95),(.75,3.9),(.9,3.95),(1.2,3.95),(1.25,3.85),(1.15,3.8),(3.0,3.8),(1.6,3.75),(1.65,3.6),(1.9,3.65),(2.2,3.6),(1.15,3.6),(1.2,3.45),(4.1,3.55),(4.35,3.57),(.45,3.5),(.45,3.35),(1.0,3.5),(1.55,3.5),(1.75,3.45),(3.1,3.55),(3.2,3.5),(3.3,3.4),(3.55,3.4),(4.8,3.4),(.25,3.2),(.35,3.15),(.55,3.3),(1.05,3.3),(1.35,3.3),(1.55,3.2),(1.9,3.4),(2.1,3.3),(2.45,3.35),(2.7,3.3),(2.85,3.35),(4.45,3.25),(.6,3.15),(1.1,3.1),(1.4,3.05),(1.7,3.15),(2,3.15),(2.15,3.1),(2.4,3.2),(2.9,3.1),(3.35,3),(3.6,3),(3.55,3.15),(.6,2.95),(.95,2.95),(1.3,2.9),(1.5,3),(1.8,2.95),(2,2.95),(2.25,2.95),(2.6,2.9),(3,3),(3.9,2.95),(.3,2.75),(.65,2.8),(1,2.8),(1.25,2.75),(1.55,2.8),(1.75,2.8),(1.95,2.8),(2.2,2.75),(2.5,2.8),(2.9,2.75),(3.25,2.8),(3.55,2.75),(3.9,2.7),(4.35,2.65),(.3,2.5),(.35,2.35),(.8,2.6),(1.1,2.6),(1.45,2.6),(1.7,2.6),(2,2.55),(2.35,2.6),(2.7,2.5),(3.3,2.6),(3.6,2.5),(4.3,2.45),(4.7,2.6),(.75,2.35),(1,2.45),(1.25,2.35),(1.5,2.4),(2.15,2.4),(2.9,2.4),(3.2,2.35),(4.75,2.35),(.9,2.15),(1.15,2.2),(1.4,2.15),(1.7,2.15),(2.15,2.2),(2.45,2.2),(2.7,2.25),(2.95,2.1),(.45,2),(.75,2.1),(.95,1.95),(1.2,1.95),(1.45,1.95),(1.7,2),(2,2.05),(2.3,2),(2.65,2),(2.9,1.9),(3.15,1.95),(3.5,2),(3.55,2),(4,2),(4.3,2.02),(4.85,1.95),(8.4,2.13),(.35,1.85),(.6,1.8),(.85,1.85),(1.05,1.8),(1.3,1.85),(1.55,1.8),(1.85,1.85),(2.15,1.85),(2.5,1.8),(3.1,1.75),(.75,1.6),(1,1.65),(1.25,1.6),(1.5,1.6),(1.75,1.65),(2.1,1.6),(2.4,1.6),(2.8,1.65),(2.95,1.65),(.1,1.55),(.35,1.55),(4.9,1.55),(5.15,1.55),(.75,1.4),(1.05,1.45),(1.3,1.4),(1.6,1.45),(1.95,1.4),(2.3,1.45),(2,1.35),(3.2,1.4),(0,1.35),(.5,1.2),(.55,1.15),(.9,1.2),(1.15,1.25),(1.45,1.2),(1.75,1.25),(2.25,1.2),(2.5,1.25),(2.95,1.2),(.7,1.1),(1.15,1.05),(1.55,1.05),(1.6,1.1),(2.3,1.05),(2.5,1.05),(2.55,.95),(.55,.9),(.7,.85),(1.0,.9),(1.15,.95),(1.25,.87),(.6,.75),(.8,.7),(1.75,.75),(1.8,.7),(1.95,.65),(.25,.6),(1.25,.55),(1.55,.55),(1.45,.55),(1.9,.6),(.8,.45),(.8,.35),(1.15,.35),(1.45,.35),(.7,.15),(1.13,.02),(1.7,3.3),(1.85,3.2),(1.6,3.05),(1.9,3.0),(1.75,2.7),(1.6,2.65),(2.05,2.7),(1.2,2.5),(1.4,2.45),(1.1,2.3),(1.25,2.15),(1.0,2.1),(1.2,1.75),(.95,1.7),(1.35,1.7),(1.15,1.5),(.9,1.45)]
PTS={"NOS2":nos2,"PTGS2":ptgs2,"MS4A4A":ms4a4a,"VSIG4":vsig4,"STAT1":stat1,"TBX21":tbx21,"STAT6":stat6,"CCR8":ccr8,"FOXP3":foxp3,"PDCD1":pdcd1,"CD274":cd274}

T05=([0,2.5,5,7.5],["0.0","2.5","5.0","7.5"])
T2=([0,2,4,6,8],["0","2","4","6","8"])
T2b=([0,2,4,6],["0","2","4","6"])
T59=([5,6,7,8,9],["5","6","7","8","9"])
T03=([0,1,2,3],["0","1","2","3"])
T14=([1,2,3,4],["1","2","3","4"])
T24=([0,2,4],["0","2","4"])

ROWS = [
 (0,884,0,[
  dict(name="NOS2",cor="cor = 0.217",pv="p = 8.56e-06",sl=200,pl=269,pr=989,st=69,pt=138,pb=774,xc=(301,0,863,7.5),yc=(749,0,162,6),xt=T05,letter=("A",19,47)),
  dict(name="PTGS2",cor="cor = -0.097",pv="p = 4.82e-02",sl=1129,pl=1197,pr=1910,st=77,pt=147,pb=777,xc=(1208,0,1886,8),yc=(752,0,169,6),xt=T2),
  dict(name="MS4A4A",cor="cor = -0.113",pv="p = 2.14e-02",sl=2177,pl=2245,pr=2958,st=73,pt=142,pb=773,xc=(2271,0,2840.5,6),yc=(748,0,165,6),xt=T2b,letter=("B",2033,47)),
  dict(name="VSIG4",cor="cor = -0.125",pv="p = 1.11e-02",sl=3099,pl=3167,pr=3877,st=77,pt=146,pb=773,xc=(3195,0,3736,6),yc=(749,0,168,6),xt=T2b),
 ]),
 (884,1745,0,[
  dict(name="STAT1",cor="cor = 0.344",pv="p = 8.01e-13",sl=203,pl=272,pr=988,st=933,pt=1002,pb=1635,xc=(372,5,866,9),yc=(1610,0,1025,6),xt=T59,letter=("C",19,932)),
  dict(name="TBX21",cor="cor = 0.133",pv="p = 6.62e-03",sl=1122,pl=1190,pr=1899,st=934,pt=1003,pb=1632,xc=(1220,0,1897,3),yc=(1607,0,1026,6),xt=T03),
  dict(name="STAT6",cor="cor = 0.107",pv="p = 2.86e-02",sl=2177,pl=2245,pr=2958,st=934,pt=1004,pb=1637,xc=(2313,5,2935,9),yc=(1612,0,1026,6),xt=T59,letter=("D",2033,932)),
 ]),
 (1735,2675,-10,[
  dict(name="CCR8",cor="cor = 0.144",pv="p = 3.34e-03",sl=209,pl=277,pr=989,st=1786,pt=1854,pb=2487,xc=(308,0,956,3),yc=(2461,0,1878,6),xt=T03,letter=("E",19,1783)),
  dict(name="FOXP3",cor="cor = 0.213",pv="p = 1.25e-05",sl=1118,pl=1187,pr=1899,st=1786,pt=1855,pb=2490,xc=(1330,1,1776,4),yc=(2465,0,1879,6),xt=T14),
  dict(name="PDCD1",cor="cor = 0.185",pv="p = 1.49e-04",sl=2176,pl=2245,pr=2958,st=1796,pt=1866,pb=2500,xc=(2275,0,2766,4),yc=(2475,0,1890,6),xt=T24,letter=("F",2033,1783)),
  dict(name="CD274",cor="cor = 0.279",pv="p = 8.67e-09",sl=3088,pl=3157,pr=3870,st=1786,pt=1855,pb=2487,xc=(3183,0,3746,7.5),yc=(2461,0,1878,6),xt=T05),
 ]),
]

def calib(c, a, b):
    p0, v0, p1, v1 = c
    k = (p1 - p0) / (v1 - v0)
    return v0 + (a - p0) / k, v0 + (b - p0) / k

def bare(**kw):
    p = figure(toolbar_location=None, output_backend="svg", x_axis_type=None, y_axis_type=None, **kw)
    p.grid.visible = False
    return p

def mid_ticks(t):
    st = t[1] - t[0]
    return [t[0] - st / 2] + [a + st / 2 for a in t]

def corner(letter, w, h, gl, rowtop):
    p = bare(width=w, height=h, x_range=(0, w), y_range=(h, 0), min_border=0, outline_line_color=None)
    if letter:
        p.add_layout(Label(x=letter[1] - gl, y=letter[2] - rowtop, text=letter[0], text_font=FONT, text_color="black",
                           text_font_style="bold", text_font_size="81px", text_baseline="middle"))
    return p

def strip_fig(text, w, h, size):
    p = bare(width=w, height=h, x_range=(0, 1), y_range=(0, 1), min_border_left=0, min_border_right=4,
             min_border_top=2, min_border_bottom=0, background_fill_color="#D9D9D9",
             outline_line_color="black", outline_line_width=4)
    p.add_layout(Label(x=0.5, y=0.5, text=text, text_font=FONT, text_font_size=size, text_color="#1A1A1A",
                       text_align="center", text_baseline="middle"))
    return p

def style_axis(a, label, lab_size, lab_stand, tick_size, tick_stand, tick_color, tlen=10, twid=3):
    a.axis_label = label
    a.axis_label_text_font = FONT
    a.axis_label_text_color = "black"
    a.axis_label_text_font_size = lab_size
    a.axis_label_text_font_style = "normal"
    a.axis_label_standoff = lab_stand
    a.major_label_text_font = FONT
    a.major_label_text_font_size = tick_size
    a.major_label_text_color = tick_color
    a.major_label_standoff = tick_stand
    a.major_tick_out = tlen
    a.major_tick_in = 0
    a.major_tick_line_width = twid
    a.major_tick_line_color = "#333333"
    a.minor_tick_line_color = None
    a.axis_line_color = None

def group(P, gl, rowtop, rowbottom):
    sl, pl, pr, st, pt, pb = P["sl"], P["pl"], P["pr"], P["st"], P["pt"], P["pb"]
    xr = calib(P["xc"], pl, pr)
    yr = calib(P["yc"], pb, pt)
    c = corner(P.get("letter"), pl - gl, pt - rowtop, gl, rowtop)
    s = strip_fig(P["name"], pr - pl + 4, pt - st + 2, "35px")
    top = row(c, column(Spacer(width=pr - pl + 4, height=st - rowtop - 2), s))
    L = figure(width=pl - gl, height=rowbottom - pt, x_range=(0, 1), y_range=yr, toolbar_location=None,
               output_backend="svg", x_axis_type=None, min_border_left=sl - gl, min_border_right=0,
               min_border_top=0, min_border_bottom=rowbottom - pb, background_fill_color="#D9D9D9",
               outline_line_color="black", outline_line_width=3)
    L.grid.visible = False
    a = L.yaxis[0]
    a.ticker = FixedTicker(ticks=[0, 2, 4, 6])
    style_axis(a, "Expression Level (log2 TPM)", "44px", 14, "36px", 10, "#4D4D4D")
    L.add_layout(Label(x=0.5, y=(yr[0] + yr[1]) / 2, text="E2F2", text_font=FONT, text_font_size="35px",
                       text_color="#1A1A1A", text_align="center", text_baseline="middle", angle=math.pi / 2))
    M = figure(width=pr - pl + 4, height=rowbottom - pt, x_range=xr, y_range=yr, toolbar_location=None,
               output_backend="svg", y_axis_type=None, min_border_left=0, min_border_right=4, min_border_top=0,
               min_border_bottom=rowbottom - pb, outline_line_color="black", outline_line_width=4)
    b = M.xaxis[0]
    b.ticker = FixedTicker(ticks=P["xt"][0])
    b.major_label_overrides = dict(zip(P["xt"][0], P["xt"][1]))
    style_axis(b, "Expression Level (log2 TPM)", "44px", 8, "36px", 9, "#4D4D4D")
    M.xgrid.visible = False
    M.add_layout(Grid(dimension=0, ticker=FixedTicker(ticks=P["xt"][0], minor_ticks=mid_ticks(P["xt"][0])),
                      grid_line_color=GRID, grid_line_width=4, minor_grid_line_color=GRID, minor_grid_line_width=2))
    M.add_layout(Grid(dimension=1, ticker=FixedTicker(ticks=[0, 2, 4, 6], minor_ticks=[1, 3, 5]),
                      grid_line_color=GRID, grid_line_width=4, minor_grid_line_color=GRID, minor_grid_line_width=2))
    pts = PTS[P["name"]]
    M.scatter([q[0] for q in pts], [q[1] for q in pts], size=21, color="black")
    sx, sy, hi, lo = SM[P["name"]]
    M.varea(sx, lo, hi, fill_color="#999999", fill_alpha=0.4)
    M.line(sx, sy, line_color="#1F55F0", line_width=8)
    kx = (xr[1] - xr[0]) / (pr - pl)
    ky = (yr[1] - yr[0]) / (pb - pt)
    M.add_layout(Label(x=xr[1] - 21 * kx, y=yr[1] - 40 * ky, text=P["cor"], text_font=FONT, text_font_size="38px",
                       text_color="red", text_align="right", text_baseline="middle"))
    M.add_layout(Label(x=xr[1] - 21 * kx, y=yr[1] - 95 * ky, text=P["pv"], text_font=FONT, text_font_size="38px",
                       text_color="red", text_align="right", text_baseline="middle"))
    return column(top, row(L, M)), pr + 4

rows_out = []
for rtop, rbot, mtop, groups in ROWS:
    gl = 0
    items = []
    for P in groups:
        g, gl = group(P, gl, rtop, rbot)
        items.append(g)
    rows_out.append(row(*items, margin=(mtop, 0, 0, 0)))

# ---- panel G ----
cells = ["B Cell", "CD8+ T Cell", "CD4+ T Cell", "Macrophage", "Neutrophil", "Dendritic Cell"]
groups_g = ["Deep Deletion", "Arm-level Deletion", "Diploid/Normal", "Arm-level Gain", "High Amplication"]
colors_g = ["#0000FF", "#ADD8E6", "#BEBEBE", "#FFA500", "#FF0000"]
alphas_g = [0.4, 0.5, 0.55, 0.38, 0.4]
keydots = ["#151C7E", "#3F5A66", "#444444", "#5E4017", "#7A1518"]
offs = [-0.36, -0.18, 0, 0.18, 0.36]
deep_med = [.034,.129,.146,.017,.136,.643]
arm_lo=[0,.024,.027,0,.044,.313]; arm_q1=[.01,.077,.093,0,.078,.39]; arm_med=[.039,.131,.116,.002,.099,.472]; arm_q3=[.065,.184,.142,.046,.133,.57]; arm_hi=[.106,.335,.206,.102,.196,.833]
dip_lo=[0,.009,0,0,.049,.26]; dip_q1=[.009,.102,.1,0,.085,.43]; dip_med=[.045,.149,.129,.012,.111,.508]; dip_q3=[.073,.22,.175,.091,.147,.639]; dip_hi=[.17,.373,.27,.217,.229,.929]
gain_lo=[.014,.032,.059,0,.054,.3]; gain_q1=[.036,.081,.096,0,.075,.37]; gain_med=[.052,.106,.107,.002,.083,.423]; gain_q3=[.062,.179,.151,.034,.124,.531]; gain_hi=[.096,.312,.2,.08,.186,.753]
high_lo=[0,.014,.096,0,.069,.368]; high_q1=[0,.078,.096,0,.076,.368]; high_med=[.014,.115,.113,.042,.107,.486]; high_q3=[.039,.172,.134,.086,.142,.686]; high_hi=[.071,.303,.158,.089,.169,.939]
star_x=[0.82,1.82,2.18,2.82,3.82,4.18,4.82,5.18,5.82,6.18]
star_y=[1.117,1.117,1.146,1.087,1.117,1.087,1.117,1.146,1.087,1.146]
star_t=["**","**","*","***","**","***","**","*","***","*"]
dot_x=[1.36,3.36]; dot_y=[1.112,1.112]; dot_t=[".","."]

# jittered points: (offset from the box centre, level)
arm_b=[(.048,.169),(-.06,0),(-.03,0),(0,0),(.03,0),(.06,0),(-.062,.025),(-.03,.02),(.03,.03),(.065,.02),(-.065,.05),(-.04,.06),(.04,.05),(.068,.06),(-.05,.085),(-.02,.1),(.01,.105),(.04,.09),(.06,.08),(-.02,.05),(.01,.07),(-.01,.03),(.02,.01)]
dip_b=[(.057,.953),(.04,.899),(-.035,.57),(.002,.475),(-.007,.443),(-.007,.415),(-.035,.38),(.02,.353),(-.035,.325),(-.038,.31),(-.048,.26),(.03,.236),(.007,.224),(-.03,.214),(.035,.202),(.035,.169),(-.038,.149),(.044,.129),(-.03,.124),(.053,.104),(-.01,.105),(-.038,.09),(.035,.085),(.053,.09),(-.045,.05),(.05,.05),(-.05,.02),(-.03,0),(0,0),(.03,0),(.05,0),(-.05,0),(.04,.02),(-.02,.03),(.02,.06),(0,.02),(-.04,.07)]
gain_b=[(.009,.394),(-.046,.126),(-.026,.099),(-.044,.089),(.057,.076),(.057,.054),(-.053,.044),(.057,.029),(-.053,.019),(-.053,0),(.024,0),(-.007,.064),(.03,.064),(-.026,.054),(.011,.044)]
high_b=[(.022,.072),(.04,.027),(-.033,0),(-.009,0)]
arm_cd8=[(.004,.537),(-.053,.439),(.022,.37),(.013,.355),(-.009,.335),(-.051,.323),(-.04,.298),(.009,.285),(-.037,.27),(-.055,.26),(.051,.239),(-.037,.245),(-.046,.209),(.037,.224),(.046,.214),(-.055,.184),(.065,.174),(-.065,.154),(.065,.134),(-.055,.109),(.055,.084),(-.065,.064),(.027,.022),(-.037,.054),(.009,.044),(.037,.054),(-.02,.1),(.03,.15),(-.02,.19),(-.04,.13),(0,.16),(.04,.1),(-.03,.08),(.02,.07),(-.065,.09),(.06,.16)]
dip_cd8=[(0,.792),(.024,.695),(.024,.683),(-.046,.668),(.004,.57),(.018,.534),(.044,.504),(-.026,.493),(-.044,.458),(.035,.46),(.029,.443),(-.016,.42),(-.035,.413),(.044,.404),(.033,.007),(-.04,.37),(.03,.365),(-.065,.33),(.06,.33),(-.05,.3),(.07,.295),(-.06,.26),(.05,.25),(-.07,.22),(.065,.2),(-.06,.17),(.06,.14),(-.07,.11),(.065,.09),(-.06,.07),(.06,.06),(-.05,.04),(.05,.03),(-.04,.015),(.01,.35),(-.01,.3),(.02,.26),(-.03,.13),(.03,.1),(-.04,.34),(.04,.31),(-.03,.28),(.03,.28),(-.045,.24),(.03,.23),(-.03,.06),(.02,.05),(-.01,.03),(.05,.12),(-.05,.19),(.03,.18),(-.02,.16),(0,.12)]
gain_cd8=[(-.031,.353),(-.031,.333),(-.022,.31),(-.013,.204),(.015,.204),(-.04,.18),(.033,.139),(-.04,.12),(.05,.105),(-.058,.1),(.042,.064),(.042,.044),(-.013,.029),(-.058,.064),(-.004,.125),(-.04,.075),(.015,.08),(.06,.085)]
high_cd8=[(0,.303),(0,.129),(0,.099),(.015,.014)]
arm_cd4=[(.056,.228),(-.048,.213),(.017,.209),(.046,.2),(-.025,.193),(-.051,.179),(.05,.175),(-.042,.158),(.042,.145),(-.051,.1),(.052,.09),(-.051,.06),(-.051,.027),(0,.038),(.042,.055),(-.042,.08),(.034,.08),(.042,.106),(.01,.17),(-.02,.13),(.03,.19),(-.03,.16),(.05,.12),(-.05,.13),(.03,.06),(-.02,.07),(.02,.1)]
dip_cd4=[(-.051,.985),(-.012,.712),(-.02,.656),(-.015,.627),(.039,.554),(-.036,.533),(.044,.421),(.053,.408),(.017,.378),(-.01,.361),(-.051,.357),(.056,.316),(-.019,.322),(-.005,.303),(.058,.299),(.024,.303),(-.019,.269),(-.044,.252),(.05,.243),(-.044,.218),(.058,.205),(-.05,.18),(.055,.16),(-.055,.13),(.058,.1),(-.052,.08),(.05,.07),(-.044,.055),(.035,.03),(-.036,0),(-.019,0),(.056,0),(.041,.029),(-.036,.055),(-.03,.24),(.03,.23),(-.025,.21),(.04,.19),(-.04,.16),(.03,.14),(-.02,.09),(.03,.09),(-.035,.11),(0,.07),(-.02,.04)]
gain_cd4=[(.037,.644),(-.031,.289),(.029,.254),(.041,.201),(.024,.175),(-.038,.158),(.056,.156),(-.012,.141),(.022,.123),(-.054,.106),(.039,.098),(.022,.085),(-.017,.059),(.029,.012),(-.003,.08),(-.04,.13),(.01,.15),(.04,.12),(-.03,.1),(0,.11)]
high_cd4=[(-.014,.158),(.009,.125),(-.056,.098),(.026,.093)]
arm_mac=[(.007,.273),(.031,.226),(.054,.223),(-.032,.177),(.017,.14),(.017,.118),(.022,.11),(.051,.102),(-.042,.093),(-.05,.08),(-.017,.072),(.042,.063),(-.05,.05),(-.008,.029),(.042,.012),(-.059,0),(-.017,0),(.025,0),(.059,0),(-.042,.016),(-.03,.09),(0,.06),(.03,.04),(-.03,.03),(.01,.02),(.05,.03)]
dip_mac=[(-.012,.45),(-.039,.372),(-.012,.352),(-.041,.293),(-.015,.253),(.024,.262),(.041,.259),(.053,.236),(-.044,.217),(-.019,.2),(.024,.187),(-.052,.14),(.049,.132),(-.027,.115),(.041,.102),(-.052,.09),(-.019,.072),(.049,.063),(-.052,.038),(0,.02),(.041,0),(-.044,0),(-.04,.2),(.02,.21),(-.03,.17),(.03,.16),(-.04,.12),(.02,.13),(-.02,.1),(.03,.08),(-.03,.05),(.02,.04),(-.02,0),(.02,0),(-.04,.02),(.03,.02)]
gain_mac=[(-.043,.082),(.053,.07),(-.043,.055),(.002,.079),(-.029,.025),(.014,.02),(.039,.003),(-.037,0),(-.003,0),(-.02,.06),(.01,.05),(-.05,.01)]
high_mac=[(-.043,.091),(.024,.083),(-.017,0),(.041,0)]
arm_neu=[(-.058,.229),(-.018,.224),(.016,.242),(.022,.219),(-.011,.194),(.033,.169),(-.044,.159),(-.067,.134),(.044,.124),(.067,.084),(-.067,.044),(.022,.039),(.067,.049),(-.033,.054),(.033,.064),(.011,.085),(-.04,.1),(.05,.14),(-.06,.1),(.06,.11),(-.05,.07),(0,.06),(-.03,.13),(.03,.1),(-.02,.07),(.05,.08)]
dip_neu=[(-.011,.345),(-.02,.313),(-.013,.3),(-.024,.277),(.033,.278),(.02,.255),(-.047,.245),(.053,.235),(-.058,.215),(.064,.195),(-.058,.175),(.042,.16),(-.047,.14),(.06,.13),(-.058,.1),(-.058,.054),(.053,.049),(0,.044),(-.03,.2),(.03,.21),(-.04,.23),(.04,.2),(-.03,.17),(.03,.17),(-.05,.12),(.05,.1),(-.04,.08),(.04,.07),(-.02,.06),(.02,.06),(-.01,.24),(.02,.23)]
gain_neu=[(-.053,.233),(-.056,.187),(-.044,.156),(.033,.152),(-.016,.169),(-.027,.11),(.051,.114),(-.049,.074),(.051,.054),(-.004,.054),(-.027,.064),(.02,.09)]
high_neu=[(.02,.169),(-.044,.131),(.044,.082),(-.024,.064)]
arm_dc=[(.029,.908),(-.029,.835),(-.04,.806),(.024,.786),(.02,.771),(-.013,.73),(.02,.715),(-.035,.67),(-.024,.68),(.031,.64),(.053,.633),(-.035,.61),(.009,.605),(-.024,.585),(-.046,.575),(.042,.555),(-.057,.525),(.053,.495),(-.024,.445),(.02,.415),(-.046,.375),(.053,.335),(-.035,.31),(-.057,.335),(.009,.325),(-.035,.355),(.01,.5),(-.03,.47),(.03,.54),(-.02,.56),(.03,.45),(-.05,.43),(.04,.4),(-.01,.4),(-.04,.52),(.02,.37),(-.02,.33),(-.06,.47),(.05,.46)]
dip_dc=[(.051,1.124),(.047,1.104),(.029,1.046),(.013,1.031),(.007,1.011),(-.009,.998),(.051,.98),(-.047,.958),(.007,.931),(.029,.906),(.04,.886),(-.015,.866),(.04,.851),(-.027,.811),(.04,.816),(-.038,.766),(.007,.776),(-.049,.736),(.04,.726),(-.049,.686),(.051,.686),(-.027,.656),(.018,.586),(-.049,.416),(.04,.396),(-.049,.356),(.04,.336),(-.038,.306),(.04,.286),(-.004,.262),(.031,.264),(.029,.316),(-.045,.62),(.03,.48),(-.02,.52),(-.03,.72),(.03,.75),(-.04,.67),(.02,.66),(.04,.62),(-.03,.58),(.04,.55),(-.05,.52),(.04,.49),(-.04,.47),(.02,.42),(-.02,.38),(.03,.37),(-.03,.33),(.01,.3),(-.04,.44),(.05,.44)]
gain_dc=[(-.011,.865),(0,.753),(-.024,.73),(-.007,.634),(.049,.61),(-.024,.58),(-.056,.575),(-.013,.513),(.027,.493),(.042,.46),(-.044,.45),(-.007,.435),(.038,.41),(-.051,.415),(.027,.385),(.049,.355),(-.051,.347),(-.013,.319),(.038,.315),(.033,.299)]
high_dc=[(-.056,.94),(.051,.602),(.022,.358),(.038,.37)]
arm_pts=[arm_b,arm_cd8,arm_cd4,arm_mac,arm_neu,arm_dc]
dip_pts=[dip_b,dip_cd8,dip_cd4,dip_mac,dip_neu,dip_dc]
gain_pts=[gain_b,gain_cd8,gain_cd4,gain_mac,gain_neu,gain_dc]
high_pts=[high_b,high_cd8,high_cd4,high_mac,high_neu,high_dc]

rtop, rbot = 2675, 4040
gx, gy = (0.405, 6.595), calib((3879, 0, 3109, 0.9), 3926, 2868)
corner_g = corner(("G", 20, 2724), 339, 2868 - rtop, 0, rtop)
s_g = strip_fig("STAD", 3370 - 339, 2868 - 2753 + 2, "57px")
top_g = row(corner_g, column(Spacer(width=3370 - 339, height=2753 - rtop - 2), s_g))
G = figure(width=3370, height=rbot - 2868, x_range=gx, y_range=gy, toolbar_location=None, output_backend="svg",
           min_border_left=339, min_border_right=4, min_border_top=0, min_border_bottom=rbot - 3926,
           outline_line_color="black", outline_line_width=4)
G.xgrid.visible = False
G.ygrid.visible = False
xa, ya = G.xaxis[0], G.yaxis[0]
xa.ticker = FixedTicker(ticks=[1, 2, 3, 4, 5, 6])
xa.major_label_overrides = {i + 1: c for i, c in enumerate(cells)}
style_axis(xa, None, "10px", 0, "66px", 2, "black", 20, 4)
ya.ticker = FixedTicker(ticks=[0, .3, .6, .9])
ya.major_label_overrides = {0: "0.0", .3: "0.3", .6: "0.6", .9: "0.9"}
style_axis(ya, "Infiltration Level", "73px", 25, "55px", 14, "#4D4D4D", 20, 4)
G.add_layout(Grid(dimension=0, ticker=FixedTicker(ticks=[1, 2, 3, 4, 5, 6]), grid_line_color=GRID, grid_line_width=5))
G.add_layout(Grid(dimension=1, ticker=FixedTicker(ticks=[0, .3, .6, .9], minor_ticks=[.15, .45, .75, 1.05]),
                  grid_line_color=GRID, grid_line_width=5, minor_grid_line_color=GRID, minor_grid_line_width=3))
stats = [(arm_lo, arm_q1, arm_med, arm_q3, arm_hi), (dip_lo, dip_q1, dip_med, dip_q3, dip_hi),
         (gain_lo, gain_q1, gain_med, gain_q3, gain_hi), (high_lo, high_q1, high_med, high_q3, high_hi)]
jit = [arm_pts, dip_pts, gain_pts, high_pts]
HW = 0.0765
cx = [1, 2, 3, 4, 5, 6]
G.segment([c + offs[0] - HW for c in cx], deep_med, [c + offs[0] + HW for c in cx], deep_med, line_color="#1A1A1A", line_width=8)
G.scatter([c - 0.376 for c in cx], deep_med, size=20, color=colors_g[0])
for k in range(4):
    xs_j, ys_j = [], []
    for c, lst in zip(cx, jit[k]):
        xs_j += [c + offs[k + 1] + q[0] for q in lst]
        ys_j += [q[1] for q in lst]
    G.scatter(xs_j, ys_j, size=23, color=colors_g[k + 1])
for k, (lo, q1, med, q3, hi) in enumerate(stats):
    xs = [c + offs[k + 1] for c in cx]
    G.segment(xs, lo, xs, q1, line_color="black", line_width=4)
    G.segment(xs, q3, xs, hi, line_color="black", line_width=4)
    G.vbar(xs, HW * 2, q3, q1, fill_color=colors_g[k + 1], fill_alpha=alphas_g[k + 1], line_color="black", line_width=5)
    G.segment([x - HW for x in xs], med, [x + HW for x in xs], med, line_color="#1A1A1A", line_width=8)
G.text(star_x, star_y, text=star_t, text_font=value(FONT), text_font_size="93px", text_color="black", angle=math.pi / 2,
       text_align="center", text_baseline="middle", x_offset=10)
G.text(dot_x, dot_y, text=dot_t, text_font=value(FONT), text_font_size="93px", text_color="black", angle=math.pi / 2,
       text_align="center", text_baseline="middle", x_offset=-26)
lg = bare(width=730, height=520, x_range=(0, 730), y_range=(0.5, 7.25), min_border=0, outline_line_color=None)
ly = [5, 4, 3, 2, 1]
lg.text([106], [6.447], text=["Copy Number"], text_font=value(FONT), text_font_size="75px", text_color="black", text_baseline="middle")
lg.segment([144] * 5, [y - .42 for y in ly], [144] * 5, [y + .42 for y in ly], line_color="black", line_width=3)
lg.scatter([144] * 5, ly, size=20, color=keydots)
lg.quad(left=[114] * 5, right=[174] * 5, bottom=[y - .26 for y in ly], top=[y + .26 for y in ly], fill_color=colors_g, fill_alpha=alphas_g, line_color="black", line_width=3)
lg.segment([114] * 5, ly, [174] * 5, ly, line_color="#1A1A1A", line_width=5)
lg.text([220] * 5, ly, text=groups_g, text_font=value(FONT), text_font_size="60px", text_color="black", text_baseline="middle")
bottom_g = row(G, column(Spacer(width=730, height=3125 - 2868), lg))
rows_out.append(column(top_g, bottom_g))

layout = column(*rows_out)
open("out.html", "w").write(file_html(layout, INLINE))
